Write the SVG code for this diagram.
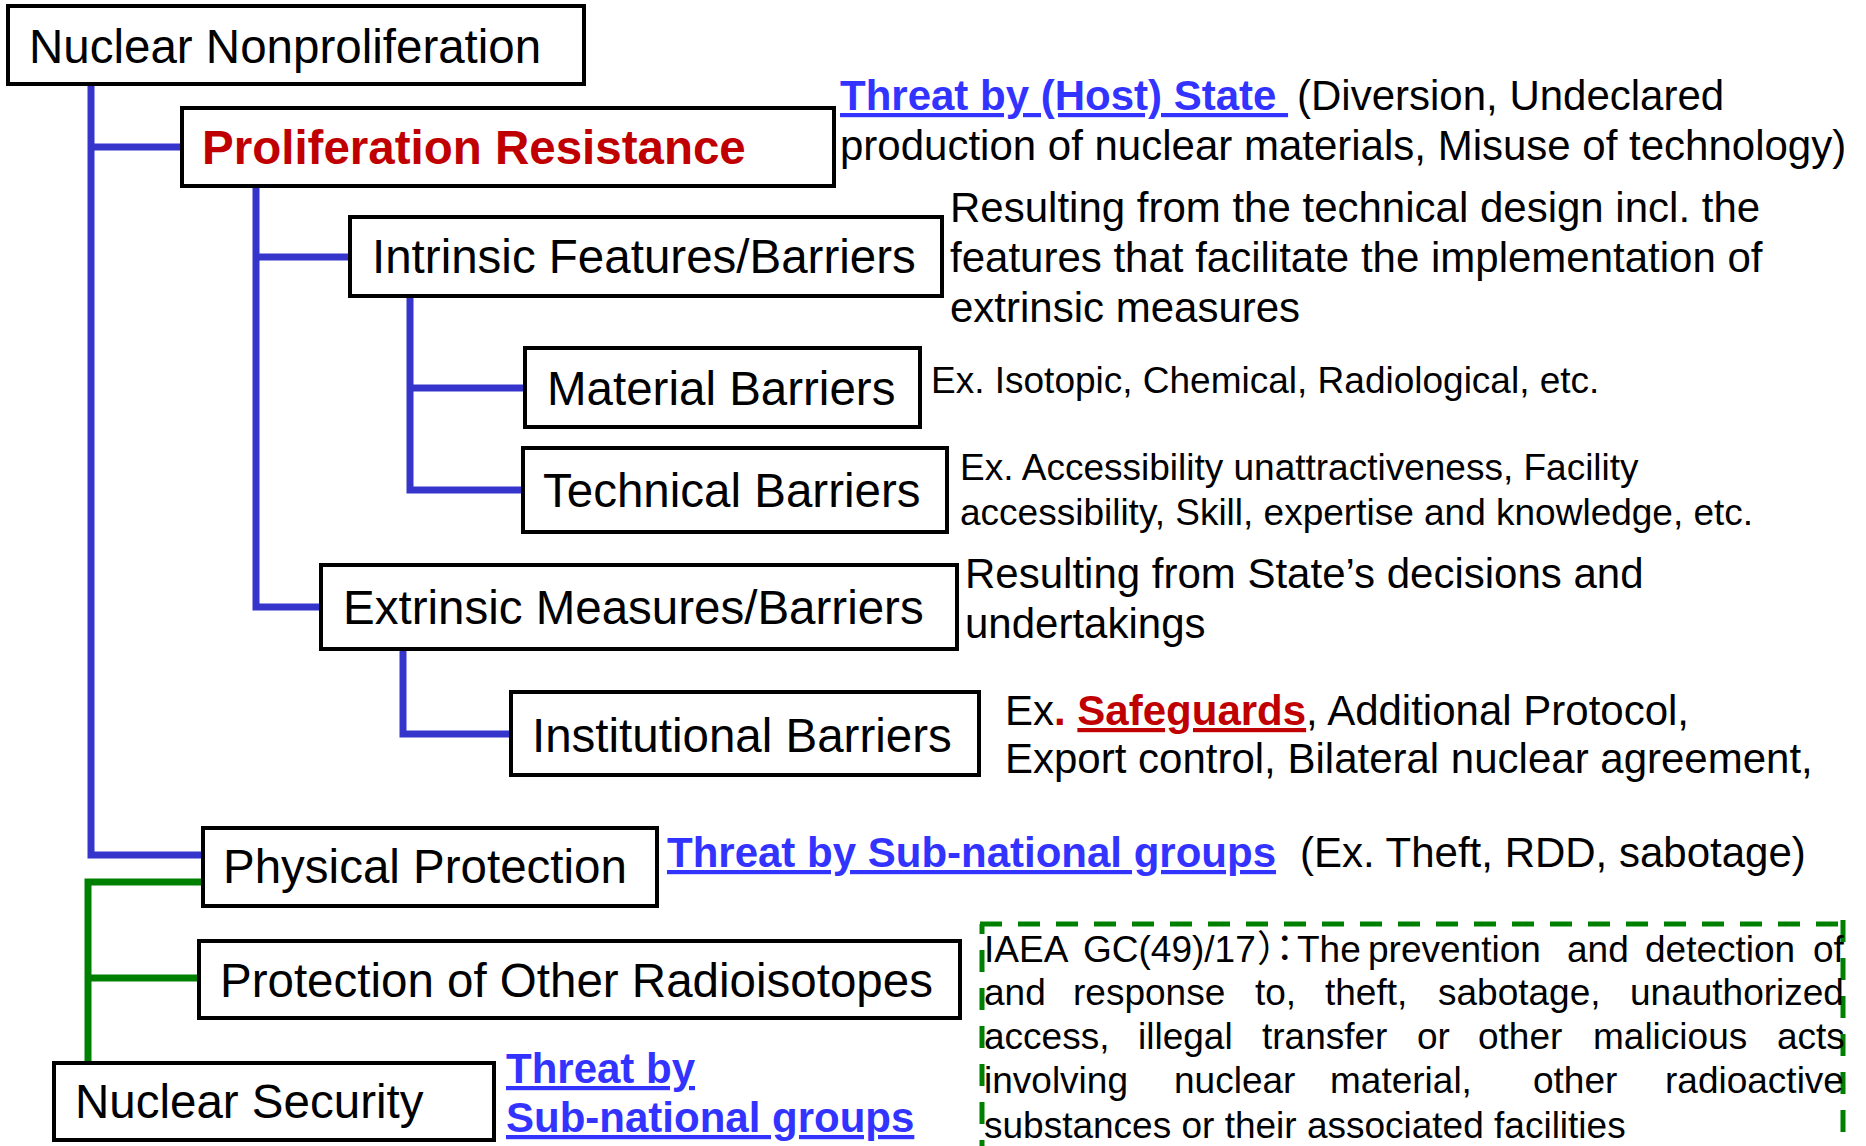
<svg xmlns="http://www.w3.org/2000/svg" width="1866" height="1146" viewBox="0 0 1866 1146">
<style>
  text { font-family: "Liberation Sans", Arial, "Noto Sans CJK JP", sans-serif; fill: #000; }
  .box { fill: #fff; stroke: #000; stroke-width: 4; }
  .lbl { font-size: 47.5px; }
  .red { fill: #c00000; font-weight: bold; }
  .note { font-size: 42px; }
  .small { font-size: 37px; }
  .link { fill: #3333ff; font-weight: bold; text-decoration: underline; }
  .redlink { fill: #c00000; font-weight: bold; text-decoration: underline; }
  .blue { fill: none; stroke: #3535cc; stroke-width: 7; }
  .green { fill: none; stroke: #008000; stroke-width: 7; }
  .dash { fill: none; stroke: #008000; stroke-width: 5; stroke-dasharray: 22 16; }
  .halt { font-family: "Noto Sans CJK JP", sans-serif; font-feature-settings: "halt"; }
</style>
<rect width="1866" height="1146" fill="#fff"/>

<g id="connectors">
  <path class="blue" d="M91,85 V855 H203"/>
  <path class="blue" d="M91,147 H182"/>
  <path class="blue" d="M256,186 V607 H321"/>
  <path class="blue" d="M256,257 H350"/>
  <path class="blue" d="M410,296 V490 H523"/>
  <path class="blue" d="M410,388 H525"/>
  <path class="blue" d="M403,649 V734 H511"/>
  <path class="green" d="M203,882 H88 V1063"/>
  <path class="green" d="M88,978 H199"/>
</g>

<g id="nuclear-nonproliferation">
  <rect class="box" x="8" y="6" width="576" height="78"/>
  <text class="lbl" x="29" y="63">Nuclear Nonproliferation</text>
</g>

<g id="proliferation-resistance">
  <rect class="box" x="182" y="108" width="652" height="78"/>
  <text class="lbl red" x="202" y="164">Proliferation Resistance</text>
  <text class="note" x="840" y="110"><tspan class="link">Threat by (Host) State </tspan><tspan x="1297">(Diversion, Undeclared</tspan></text>
  <text class="note" x="840" y="160">production of nuclear materials, Misuse of technology)</text>
</g>

<g id="intrinsic">
  <rect class="box" x="350" y="217" width="592" height="79"/>
  <text class="lbl" x="372" y="273">Intrinsic Features/Barriers</text>
  <text class="note" x="950" y="222">Resulting from the technical design incl. the</text>
  <text class="note" x="950" y="272">features that facilitate the implementation of</text>
  <text class="note" x="950" y="322">extrinsic measures</text>
</g>

<g id="material">
  <rect class="box" x="525" y="348" width="395" height="79"/>
  <text class="lbl" x="547" y="405">Material Barriers</text>
  <text class="small" x="931" y="393">Ex. Isotopic, Chemical, Radiological, etc.</text>
</g>

<g id="technical">
  <rect class="box" x="523" y="448" width="424" height="84"/>
  <text class="lbl" x="543" y="507">Technical Barriers</text>
  <text class="small" x="960" y="480">Ex. Accessibility unattractiveness, Facility</text>
  <text class="small" x="960" y="525">accessibility, Skill, expertise and knowledge, etc.</text>
</g>

<g id="extrinsic">
  <rect class="box" x="321" y="565" width="636" height="84"/>
  <text class="lbl" x="343" y="624">Extrinsic Measures/Barriers</text>
  <text class="note" x="965" y="588">Resulting from State’s decisions and</text>
  <text class="note" x="965" y="638">undertakings</text>
</g>

<g id="institutional">
  <rect class="box" x="511" y="692" width="468" height="83"/>
  <text class="lbl" x="532" y="752">Institutional Barriers</text>
  <text class="note" x="1005" y="725">Ex<tspan class="red">. </tspan><tspan class="redlink">Safeguards</tspan>, Additional Protocol,</text>
  <text class="note" x="1005" y="773">Export control, Bilateral nuclear agreement,</text>
</g>

<g id="physical-protection">
  <rect class="box" x="203" y="828" width="454" height="78"/>
  <text class="lbl" x="223" y="883">Physical Protection</text>
  <text class="note" x="667" y="867"><tspan class="link">Threat by Sub-national groups</tspan><tspan x="1300">(Ex. Theft, RDD, sabotage)</tspan></text>
</g>

<g id="other-radioisotopes">
  <rect class="box" x="199" y="941" width="761" height="77"/>
  <text class="lbl" x="220" y="997">Protection of Other Radioisotopes</text>
</g>

<g id="nuclear-security">
  <rect class="box" x="54" y="1063" width="440" height="77"/>
  <text class="lbl" x="75" y="1118">Nuclear Security</text>
  <text class="note link" x="506" y="1083">Threat by</text>
  <text class="note link" x="506" y="1132">Sub-national groups</text>
</g>

<g id="iaea-definition">
  <path class="dash" d="M980,924 H1846"/>
  <path class="dash" d="M982,924 V1146" stroke-dashoffset="12"/>
  <path class="dash" d="M1843,920 V1146"/>
  <text class="small" y="962"><tspan x="984">IAEA</tspan><tspan x="1083">GC(49)/17</tspan><tspan x="1257" class="halt">）：</tspan><tspan x="1297">The</tspan><tspan x="1368">prevention</tspan><tspan x="1567">and</tspan><tspan x="1645">detection</tspan><tspan x="1813">of</tspan></text>
  <text class="small" y="1005"><tspan x="984">and</tspan><tspan x="1073">response</tspan><tspan x="1255">to,</tspan><tspan x="1325">theft,</tspan><tspan x="1438">sabotage,</tspan><tspan x="1630">unauthorized</tspan></text>
  <text class="small" y="1049"><tspan x="984">access,</tspan><tspan x="1138">illegal</tspan><tspan x="1262">transfer</tspan><tspan x="1417">or</tspan><tspan x="1478">other</tspan><tspan x="1593">malicious</tspan><tspan x="1777">acts</tspan></text>
  <text class="small" y="1093"><tspan x="984">involving</tspan><tspan x="1174">nuclear</tspan><tspan x="1330">material,</tspan><tspan x="1533">other</tspan><tspan x="1665">radioactive</tspan></text>
  <text class="small" x="984" y="1138">substances or their associated facilities</text>
</g>
</svg>
